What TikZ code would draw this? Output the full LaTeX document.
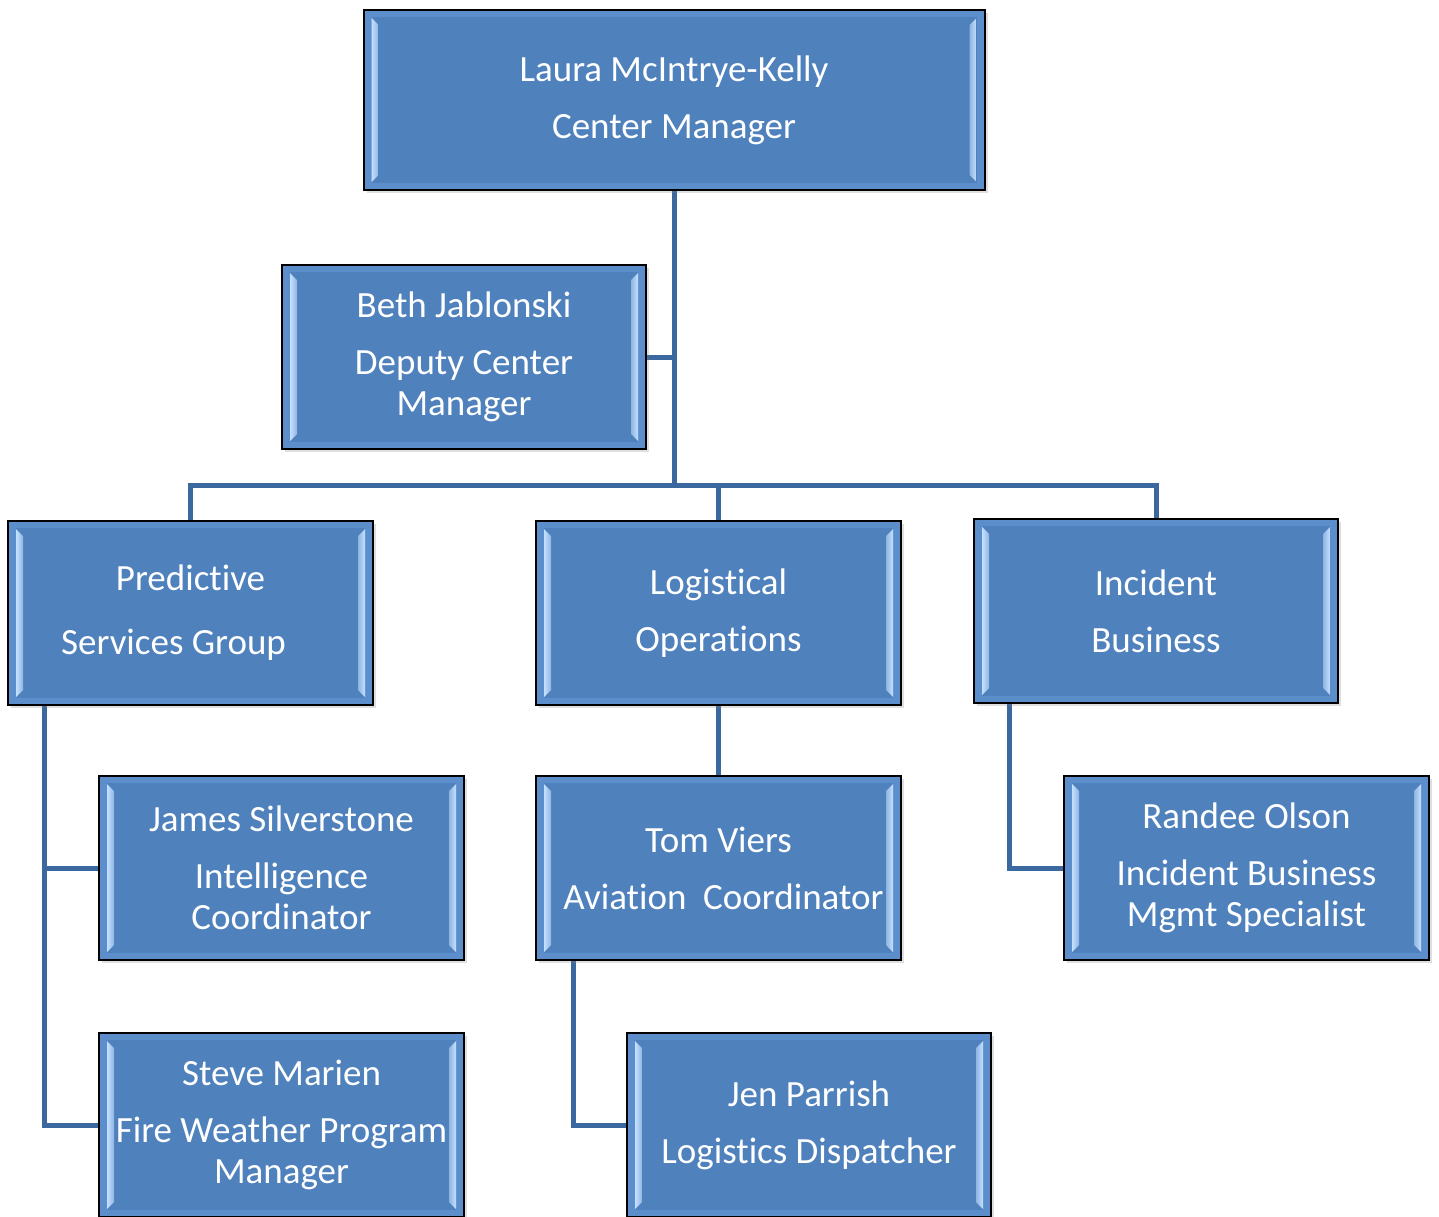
\documentclass[tikz,border=0pt]{standalone}
\usepackage{fontspec}
\setmainfont[Ligatures=NoCommon]{Carlito}
\usetikzlibrary{shadows,backgrounds}
\definecolor{boxblue}{HTML}{4F81BD}
\definecolor{boxedge}{HTML}{5C8ECB}
\definecolor{stripe}{HTML}{C4E0FF}
\definecolor{connblue}{RGB}{60,104,160}
\begin{document}
\begin{tikzpicture}[x=1pt,y=-1pt,
  orgbox/.style={draw=black, line width=2pt, fill=boxblue,
    minimum width=365pt, minimum height=184pt, inner sep=0pt,
    text=white, align=center, font=\fontsize{37}{41}\selectfont,
    drop shadow={opacity=0.25, shadow xshift=3pt, shadow yshift=-3pt},
    path picture={
      \fill[boxedge] (path picture bounding box.south west) rectangle (path picture bounding box.north east);
      \fill[boxblue] ([shift={(8pt,-7pt)}]path picture bounding box.north west) rectangle ([shift={(-8pt,7pt)}]path picture bounding box.south east);
      \shade[left color=stripe, right color=stripe!55!boxblue]
        ([shift={(8pt,-8pt)}]path picture bounding box.north west) --
        ([shift={(15pt,-15pt)}]path picture bounding box.north west) --
        ([shift={(15pt,15pt)}]path picture bounding box.south west) --
        ([shift={(8pt,8pt)}]path picture bounding box.south west) -- cycle;
      \shade[right color=stripe, left color=stripe!55!boxblue]
        ([shift={(-8pt,-8pt)}]path picture bounding box.north east) --
        ([shift={(-15pt,-15pt)}]path picture bounding box.north east) --
        ([shift={(-15pt,15pt)}]path picture bounding box.south east) --
        ([shift={(-8pt,8pt)}]path picture bounding box.south east) -- cycle;
    }},
  conn/.style={draw=connblue, line width=5pt, line join=miter}]
\useasboundingbox (0,0) rectangle (1439,1216);

\node[orgbox, minimum width=621pt, minimum height=180pt] (top) at (674,100)
  {Laura McIntrye-Kelly\\[16pt]Center Manager};
\node[orgbox, minimum width=364pt] (beth) at (464,357)
  {Beth Jablonski\\[16pt]Deputy Center\\Manager};
\node[orgbox] (pred) at (190.5,613)
  {Predictive\\[23pt]Services Group\hspace*{34pt}};
\node[orgbox] (log) at (718.5,613)
  {Logistical\\[16pt]Operations};
\node[orgbox, minimum width=364pt] (inc) at (1156,611)
  {Incident\\[16pt]Business};
\node[orgbox] (james) at (281.5,868)
  {James Silverstone\\[16pt]Intelligence\\Coordinator};
\node[orgbox] (tom) at (718.5,868)
  {Tom Viers\\[16pt]\hspace*{10pt}Aviation\ \ Coordinator};
\node[orgbox] (randee) at (1246.5,868)
  {Randee Olson\\[16pt]Incident Business\\Mgmt Specialist};
\node[orgbox] (steve) at (281.5,1125)
  {Steve Marien\\[16pt]Fire Weather Program\\Manager};
\node[orgbox, minimum width=364pt] (jen) at (809,1125)
  {Jen Parrish\\[16pt]Logistics Dispatcher};

\coordinate (bus) at (674,485);
\coordinate (pl) at ([xshift=37pt]pred.south west);
\coordinate (tl) at ([xshift=38pt]tom.south west);
\coordinate (il) at ([xshift=36pt]inc.south west);

\begin{scope}[on background layer]
\draw[conn] (top.south) -- (bus);
\draw[conn] (beth.east) -- (beth.east -| bus);
\draw[conn] (pred.north) |- (bus) -| (inc.north);
\draw[conn] (log.north) -- (log.north |- bus);
\draw[conn] (pl) |- (james.west);
\draw[conn] (pl) |- (steve.west);
\draw[conn] (log.south) -- (tom.north);
\draw[conn] (tl) |- (jen.west);
\draw[conn] (il) |- (randee.west);
\end{scope}
\end{tikzpicture}
\end{document}
